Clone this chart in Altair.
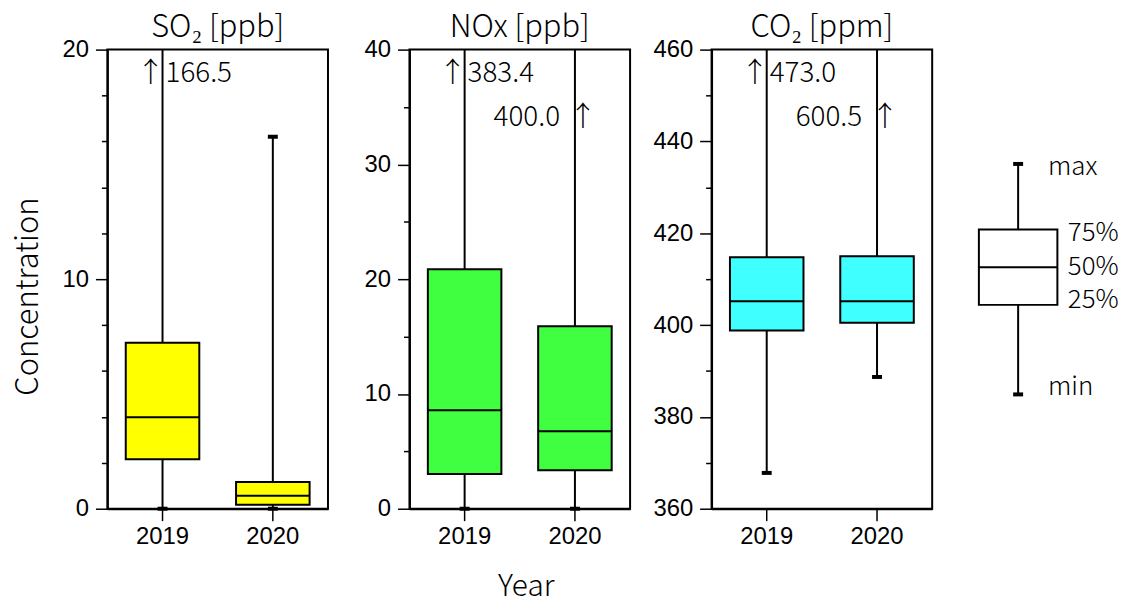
import altair as alt
import numpy as np
import pandas as pd

years = ["2019", "2020"]

so2_min = [0.0, 0.0]
so2_q1 = [2.16, 0.17]
so2_median = [3.98, 0.56]
so2_q3 = [7.23, 1.16]
so2_max = [166.5, 16.2]

nox_min = [0.0, 0.0]
nox_q1 = [3.03, 3.35]
nox_median = [8.57, 6.75]
nox_q3 = [20.87, 15.9]
nox_max = [383.4, 400.0]

co2_min = [367.8, 388.7]
co2_q1 = [398.8, 400.5]
co2_median = [405.2, 405.2]
co2_q3 = [414.8, 415.0]
co2_max = [473.0, 600.5]

titles = ["SO₂ [ppb]", "NOx [ppb]", "CO₂ [ppm]"]
y_domains = [[0, 20], [0, 40], [360, 460]]
major_steps = [5, 10, 20]
minor_steps = [1, 2.5, 5]
colors = ["#FFFF00", "#40FF40", "#40FFFF"]

legend_labels = ["max", "75%", "50%", "25%", "min"]
legend_values = [75.1, 60.8, 52.6, 44.4, 24.9]

CJK = "Noto Sans CJK JP"
SANS = "Liberation Sans"
W, H = 222, 462


def panel(i, mins, q1, med, q3, maxs):
    df = pd.DataFrame({"year": years, "min": mins, "q1": q1, "median": med,
                       "q3": q3, "max": maxs})
    lo, hi = y_domains[i]
    df["top"] = hi
    ticks = [float(v) for v in np.arange(lo, hi + 1e-9, minor_steps[i])]
    major = major_steps[i]
    test = f"abs(((datum.value - {lo}) % {major})) < 0.001"
    yscale = alt.Scale(domain=[lo, hi], nice=False, zero=False)
    yaxis_kw = dict(
        values=ticks, format="d",
        labelExpr=f"{test} ? datum.label : ''",
        tickSize={"condition": {"test": test, "value": 12}, "value": 6},
        tickColor="black", tickWidth=1.5, domainColor="black", domainWidth=2,
        labelFont=SANS, labelFontSize=24, labelColor="black", labelPadding=7,
        grid=False, minExtent=60, maxExtent=60,
    )
    if i == 0:
        yaxis = alt.Axis(title="Concentration", titleFont=CJK, titleFontSize=31,
                         titleFontWeight=300, titleColor="black",
                         titlePadding=3, titleY=248, **yaxis_kw)
    else:
        yaxis = alt.Axis(title=None, **yaxis_kw)
    xaxis_kw = dict(labelAngle=0, tickSize=12, tickColor="black", tickWidth=1.5,
                    domainColor="black", domainWidth=2, labelFont=SANS,
                    labelFontSize=24, labelColor="black", labelPadding=4,
                    grid=False)
    if i == 1:
        xaxis = alt.Axis(title="Year", titleFont=CJK, titleFontSize=30,
                         titleFontWeight=300, titleColor="black",
                         titleX=117, titleY=78, titleBaseline="middle", **xaxis_kw)
    else:
        xaxis = alt.Axis(title=None, **xaxis_kw)
    x = alt.X("year:N", scale=alt.Scale(paddingInner=0, paddingOuter=0), axis=xaxis)
    base = alt.Chart(df)

    whisker = base.mark_rule(clip=True, color="black", strokeWidth=2).encode(
        x=x, y=alt.Y("min:Q", scale=yscale, axis=yaxis), y2="max:Q")
    cap_max = base.mark_tick(clip=True, color="black", thickness=4, size=10,
                             opacity=1).encode(x=x, y=alt.Y("max:Q", scale=yscale))
    cap_min = base.mark_tick(color="black", thickness=4, size=10,
                             opacity=1).encode(x=x, y=alt.Y("min:Q", scale=yscale))
    box = base.mark_bar(size=74, fill=colors[i], stroke="black", strokeWidth=2,
                        opacity=1).encode(x=x, y=alt.Y("q1:Q", scale=yscale), y2="q3:Q")
    median = base.mark_tick(color="black", thickness=2, size=74, opacity=1).encode(
        x=x, y=alt.Y("median:Q", scale=yscale))

    over = base.transform_filter("datum.max > datum.top")
    txt = dict(font=CJK, fontSize=28, fontWeight=300, color="black", baseline="middle")
    a19 = over.transform_filter("datum.year == '2019'")
    a20 = over.transform_filter("datum.year == '2020'")
    arrow19 = a19.mark_text(text="↑", align="center", dx=-12, **txt).encode(
        x=x, y=alt.value(25))
    num19 = a19.mark_text(align="left", dx=3, **txt).encode(
        x=x, y=alt.value(25), text=alt.Text("max:Q", format=".1f"))
    arrow20 = a20.mark_text(text="↑", align="center", dx=8, **txt).encode(
        x=x, y=alt.value(69))
    num20 = a20.mark_text(align="right", dx=-15, **txt).encode(
        x=x, y=alt.value(69), text=alt.Text("max:Q", format=".1f"))

    return alt.layer(whisker, box, median, cap_max, cap_min,
                     arrow19, num19, arrow20, num20).properties(
        width=W, height=H,
        title=alt.TitleParams(titles[i], font=CJK, fontSize=31, fontWeight=300,
                              color="black", offset=-6))


p1 = panel(0, so2_min, so2_q1, so2_median, so2_q3, so2_max)
p2 = panel(1, nox_min, nox_q1, nox_median, nox_q3, nox_max)
p3 = panel(2, co2_min, co2_q1, co2_median, co2_q3, co2_max)

# legend key
lv = dict(zip(legend_labels, legend_values))
ldf = pd.DataFrame({"cat": ["key"], "min": [lv["min"]], "q1": [lv["25%"]],
                    "median": [lv["50%"]], "q3": [lv["75%"]], "max": [lv["max"]]})
lx = alt.X("cat:N", scale=alt.Scale(paddingInner=0, paddingOuter=0), axis=None)
ly = alt.Scale(domain=[0, 100], nice=False, zero=False)
lbase = alt.Chart(ldf)
l_whisker = lbase.mark_rule(color="black", strokeWidth=2).encode(
    x=lx, y=alt.Y("min:Q", scale=ly, axis=None), y2="max:Q")
l_box = lbase.mark_bar(size=79, fill="white", stroke="black", strokeWidth=2,
                       opacity=1).encode(x=lx, y=alt.Y("q1:Q", scale=ly), y2="q3:Q")
l_med = lbase.mark_tick(color="black", thickness=2, size=79, opacity=1).encode(
    x=lx, y=alt.Y("median:Q", scale=ly))
l_cmax = lbase.mark_tick(color="black", thickness=4, size=10, opacity=1).encode(
    x=lx, y=alt.Y("max:Q", scale=ly))
l_cmin = lbase.mark_tick(color="black", thickness=4, size=10, opacity=1).encode(
    x=lx, y=alt.Y("min:Q", scale=ly))

label_dx = {"max": 30, "min": 30, "75%": 50, "50%": 50, "25%": 50}
label_dy = {"max": 3, "min": -7, "75%": 3, "50%": 0, "25%": -5}
l_texts = []
for lab, val in zip(legend_labels, legend_values):
    tdf = pd.DataFrame({"cat": ["key"], "label": [lab], "value": [val]})
    l_texts.append(alt.Chart(tdf).mark_text(
        align="left", baseline="middle", dx=label_dx[lab], dy=label_dy[lab],
        font=CJK, fontSize=26, fontWeight=300, color="black").encode(
        x=lx, y=alt.Y("value:Q", scale=ly), text="label:N"))

legend = alt.layer(l_whisker, l_box, l_med, l_cmax, l_cmin, *l_texts).properties(
    width=131, height=H, view=alt.ViewBackground(strokeOpacity=0))

chart = alt.hconcat(p1, p2, p3, legend, spacing=20).properties(
    padding={"left": 4, "top": 1, "right": 0, "bottom": 0},
    background="white",
).configure_view(stroke="black", strokeWidth=2)

chart.save("out.html", embed_options={"renderer": "svg", "actions": False})
